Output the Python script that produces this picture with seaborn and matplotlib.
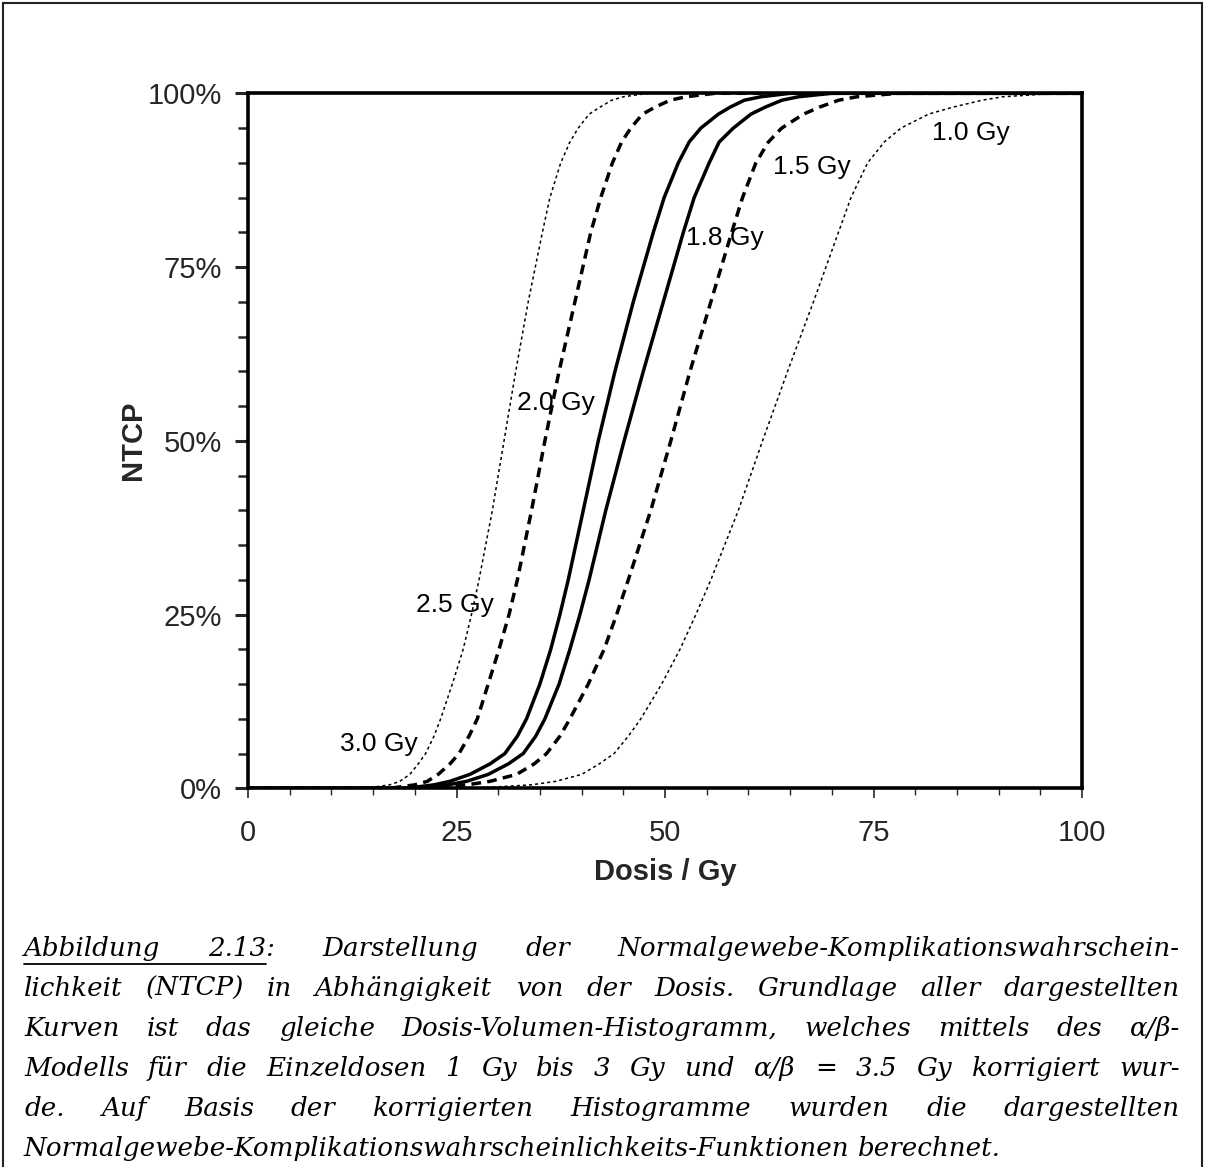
import numpy as np
import pandas as pd
import matplotlib
matplotlib.use('Agg')
import matplotlib.pyplot as plt
from matplotlib.ticker import MultipleLocator, PercentFormatter
from matplotlib.patches import Rectangle
from matplotlib.lines import Line2D
import seaborn as sns

# NTCP levels (%) and the dose (Gy) at which each curve reaches them
ntcp_levels = [0, 0, 0.5, 1, 2, 3.5, 5, 7.5, 10, 15, 20, 25, 30, 40, 50, 60, 70, 80, 85, 90,
               93, 95, 97, 98, 99, 99.5, 100, 100]

dose_30 = [0, 14, 17, 18.2, 19.4, 20.4, 21.3, 22.3, 23.1, 24.5, 25.8, 26.8, 27.7, 29.3, 30.7,
           32.1, 33.6, 35.3, 36.2, 37.5, 38.6, 39.6, 40.9, 42.2, 43.6, 45.0, 48, 100]
dose_25 = [0, 17, 20, 21.5, 22.8, 24.2, 25.3, 26.5, 27.5, 28.8, 30.1, 31.3, 32.3, 34.0, 35.6,
           37.3, 39.2, 41.1, 42.3, 43.7, 44.8, 45.9, 47.3, 48.8, 50.6, 52.5, 56, 100]
dose_20 = [0, 19, 22.3, 24.2, 26.6, 29.0, 30.8, 32.3, 33.4, 35.0, 36.3, 37.4, 38.4, 40.2, 42.0,
           44.0, 46.2, 48.6, 49.9, 51.6, 52.9, 54.3, 56.4, 57.8, 59.5, 61.5, 65, 100]
dose_18 = [0, 20, 24, 26.2, 28.8, 31.2, 33.0, 34.5, 35.6, 37.3, 38.6, 39.8, 40.9, 42.9, 45.1,
           47.4, 49.8, 52.2, 53.5, 55.3, 56.5, 58.2, 60.3, 62.0, 64.0, 66.0, 70, 100]
dose_15 = [0, 21, 26.3, 29.0, 32.2, 34.3, 35.8, 37.4, 38.6, 40.8, 42.7, 44.2, 45.6, 48.3, 50.7,
           53.0, 55.5, 58.0, 59.3, 60.9, 62.4, 64.0, 66.6, 68.5, 70.8, 73.0, 78, 100]
dose_10 = [0, 27, 34, 36.9, 40.0, 42.1, 43.9, 45.6, 47.1, 49.6, 51.8, 53.7, 55.5, 58.8, 61.7,
           64.7, 67.8, 70.8, 72.3, 74.3, 76.3, 78.3, 81.6, 84.5, 88.0, 90.5, 97, 100]

fractions = ['3.0 Gy', '2.5 Gy', '2.0 Gy', '1.8 Gy', '1.5 Gy', '1.0 Gy']
doses = [dose_30, dose_25, dose_20, dose_18, dose_15, dose_10]

caption_lines = [
    "Abbildung 2.13: Darstellung der Normalgewebe-Komplikationswahrschein-",
    "lichkeit (NTCP) in Abhängigkeit von der Dosis. Grundlage aller dargestellten",
    "Kurven ist das gleiche Dosis-Volumen-Histogramm, welches mittels des α/β-",
    "Modells für die Einzeldosen 1 Gy bis 3 Gy und α/β = 3.5 Gy korrigiert wur-",
    "de. Auf Basis der korrigierten Histogramme wurden die dargestellten",
    "Normalgewebe-Komplikationswahrscheinlichkeits-Funktionen berechnet.",
]

df = pd.concat([pd.DataFrame({'fraction': f, 'dose': d, 'ntcp': ntcp_levels})
                for f, d in zip(fractions, doses)], ignore_index=True)

# line look per curve
thin_dot = dict(linewidth=1.1, linestyle=(0, (2.0, 2.0)))
thick_dash = dict(linewidth=2.5, linestyle=(0, (2.8, 1.8)))
solid = dict(linewidth=2.5, linestyle='-')
styles = {'3.0 Gy': thin_dot, '2.5 Gy': thick_dash, '2.0 Gy': solid,
          '1.8 Gy': solid, '1.5 Gy': thick_dash, '1.0 Gy': thin_dot}
# label anchors (left edge, vertical centre) in data units
label_pos = {'3.0 Gy': (11.0, 6.4), '2.5 Gy': (20.1, 26.4), '2.0 Gy': (32.3, 55.5),
             '1.8 Gy': (52.5, 79.2), '1.5 Gy': (63.0, 89.4), '1.0 Gy': (82.0, 94.3)}

sns.set_style('white')
plt.rcParams['font.family'] = ['Liberation Sans', 'DejaVu Sans']

W, H = 1205, 1167
fig = plt.figure(figsize=(W / 100, H / 100), dpi=100)
ax = fig.add_axes([248 / W, 1 - 788.3 / H, 834 / W, 695 / H])

for f in fractions:
    sns.lineplot(data=df[df['fraction'] == f], x='dose', y='ntcp', ax=ax,
                 color='black', sort=False, estimator=None, **styles[f])
    lx, ly = label_pos[f]
    ax.text(lx, ly, f, fontsize=19, ha='left', va='center', color='black')

ax.set_xlim(0, 100)
ax.set_ylim(0, 100)
ax.xaxis.set_major_locator(MultipleLocator(25))
ax.xaxis.set_minor_locator(MultipleLocator(5))
ax.yaxis.set_major_locator(MultipleLocator(25))
ax.yaxis.set_minor_locator(MultipleLocator(5))
ax.yaxis.set_major_formatter(PercentFormatter(decimals=0))

ax.tick_params(axis='x', which='major', direction='out', length=7, width=1.2,
               labelsize=21, pad=15, bottom=True)
ax.tick_params(axis='x', which='minor', direction='out', length=5, width=1.0, bottom=True)
ax.tick_params(axis='y', which='major', direction='out', length=9.5, width=2.2,
               labelsize=21, pad=9, left=True)
ax.tick_params(axis='y', which='minor', direction='out', length=7, width=1.8, left=True)

for s in ax.spines.values():
    s.set_visible(True)
    s.set_color('black')
    s.set_linewidth(2.6)

ax.set_xlabel('Dosis / Gy', fontsize=21, fontweight='bold', va='center')
ax.set_ylabel('NTCP', fontsize=21, fontweight='bold', va='center')
ax.xaxis.set_label_coords(0.5, (788.3 - 872) / 695)
ax.yaxis.set_label_coords((133 - 248) / 834, 0.5)
ax.grid(False)

# outer frame of the figure box
fig.add_artist(Rectangle((3 / W, -0.05), 1199 / W, 1.05 - 3 / H, transform=fig.transFigure,
                         fill=False, edgecolor='#222222', linewidth=1.5))

# justified italic caption
renderer = fig.canvas.get_renderer()
cap_font = dict(fontsize=18.8, style='italic', family=['DejaVu Serif'], color='black')
x_left, x_right = 24, 1180
baselines = [956, 996, 1036, 1076, 1116, 1156]


def px(x, y):
    return x / W, 1 - y / H


for i, (line, base) in enumerate(zip(caption_lines, baselines)):
    words = line.split(' ')
    arts = [fig.text(0, 0, w, va='baseline', ha='left', **cap_font) for w in words]
    widths = [a.get_window_extent(renderer).width for a in arts]
    if i < len(caption_lines) - 1:
        gap = (x_right - x_left - sum(widths)) / (len(words) - 1)
    else:
        sp = fig.text(0, 0, 'a a', **cap_font)
        aa = fig.text(0, 0, 'aa', **cap_font)
        gap = sp.get_window_extent(renderer).width - aa.get_window_extent(renderer).width
        sp.remove()
        aa.remove()
    x = x_left
    starts = []
    for a, w in zip(arts, widths):
        a.set_position(px(x, base))
        starts.append(x)
        x += w + gap
    if i == 0:
        tmp = fig.text(0, 0, '2.13', **cap_font)
        end = starts[1] + tmp.get_window_extent(renderer).width
        tmp.remove()
        fig.add_artist(Line2D([px(x_left, 0)[0], px(end, 0)[0]],
                              [px(0, base + 8)[1]] * 2, transform=fig.transFigure,
                              color='black', linewidth=1.3))

fig.savefig('out.png', dpi=100)
